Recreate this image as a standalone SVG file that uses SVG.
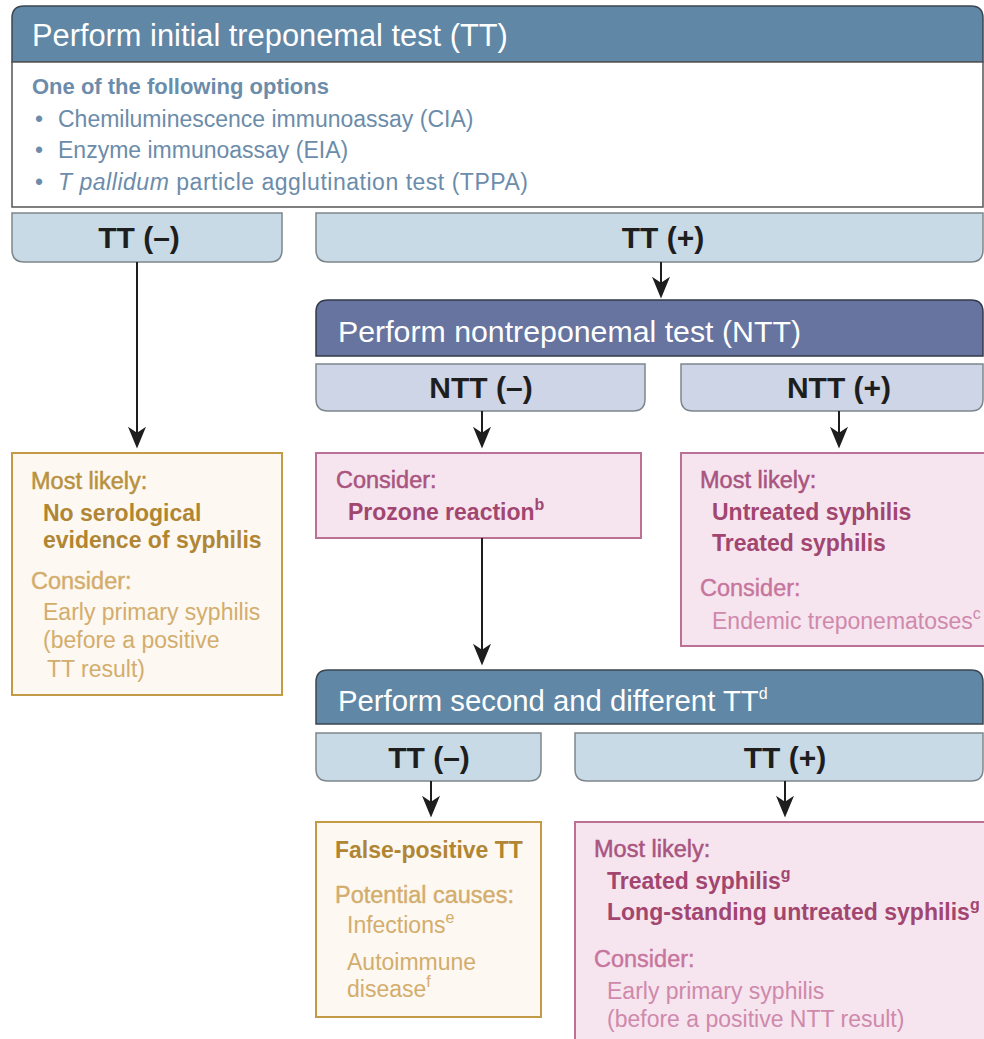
<svg xmlns="http://www.w3.org/2000/svg" width="984" height="1039" viewBox="0 0 984 1039">
<defs>
<marker id="ah" markerUnits="userSpaceOnUse" markerWidth="30" markerHeight="30" refX="0" refY="0" viewBox="-10 -10 25 20" orient="auto" overflow="visible">
<path d="M12,0 L-6,-7.5 L-1,0 L-6,7.5 Z" fill="#1e1e1e"/>
</marker>
<style>
text{font-family:"Liberation Sans",Arial,sans-serif;}
.hd{fill:#ffffff;font-size:30px;}
.lab{fill:#1e1e1e;font-size:30px;font-weight:bold;text-anchor:middle;}
.bl{fill:#6b8caa;font-size:23px;}
.blb{fill:#6b8caa;font-size:22px;font-weight:bold;}
.gm{fill:#b8913f;stroke:#b8913f;stroke-width:0.5;font-size:23.5px;}
.gb{fill:#b08533;font-size:23px;font-weight:bold;}
.gl{fill:#d3ad6c;stroke:#d3ad6c;stroke-width:0.4;font-size:23.5px;}
.gt{fill:#d3ad6c;font-size:23px;}
.pm{fill:#a9557f;stroke:#a9557f;stroke-width:0.5;font-size:23.5px;}
.pb{fill:#a2466f;font-size:23px;font-weight:bold;}
.pl{fill:#c7759c;stroke:#c7759c;stroke-width:0.4;font-size:23.5px;}
.pt{fill:#cf89ab;font-size:23px;}
.sup{font-size:16px;}
.hdr1{fill:#6087a5;stroke:#3b4650;stroke-width:1.5;}
.hdr2{fill:#66749f;stroke:#333a4a;stroke-width:1.5;}
.ttb{fill:#c8dae6;stroke:#7d868c;stroke-width:1.5;}
.ntb{fill:#cdd5e6;stroke:#7d868c;stroke-width:1.5;}
.beige{fill:#fdf8f2;stroke:#c39a45;stroke-width:2;}
.pink{fill:#f6e4ef;stroke:#bb7096;stroke-width:2;}
.conn{stroke:#1e1e1e;stroke-width:2;fill:none;marker-end:url(#ah);}
</style>
</defs>

<g id="initial-tt">
<path class="hdr1" d="M12,62 V18 Q12,6 24,6 H971 Q983,6 983,18 V62 Z"/>
<rect x="12" y="62" width="971" height="145" fill="#ffffff" stroke="#555555" stroke-width="1.5"/>
<text class="hd" x="32" y="46" style="font-size:30.8px">Perform initial treponemal test (TT)</text>
<text class="blb" x="32" y="94">One of the following options</text>
<text class="bl" x="35" y="127">•</text>
<text class="bl" x="58" y="127">Chemiluminescence immunoassay (CIA)</text>
<text class="bl" x="35" y="158">•</text>
<text class="bl" x="58" y="158">Enzyme immunoassay (EIA)</text>
<text class="bl" x="35" y="190">•</text>
<text class="bl" x="58" y="190" textLength="470"><tspan font-style="italic">T pallidum</tspan> particle agglutination test (TPPA)</text>
</g>

<g id="tt-neg">
<path class="ttb" d="M12,213 H282 V250 Q282,262 270,262 H24 Q12,262 12,250 Z"/>
<text class="lab" x="139" y="248">TT (–)</text>
</g>

<g id="tt-pos">
<path class="ttb" d="M316,213 H983 V250 Q983,262 971,262 H328 Q316,262 316,250 Z"/>
<text class="lab" x="663" y="248">TT (+)</text>
</g>

<g id="ntt">
<path class="hdr2" d="M316,356 V312 Q316,300 328,300 H971 Q983,300 983,312 V356 Z"/>
<text class="hd" x="338" y="342" style="font-size:30.3px">Perform nontreponemal test (NTT)</text>
</g>

<g id="ntt-neg">
<path class="ntb" d="M316,364 H645 V399 Q645,411 633,411 H328 Q316,411 316,399 Z"/>
<text class="lab" x="481" y="398">NTT (–)</text>
</g>

<g id="ntt-pos">
<path class="ntb" d="M681,364 H983 V399 Q983,411 971,411 H693 Q681,411 681,399 Z"/>
<text class="lab" x="839" y="398">NTT (+)</text>
</g>

<g id="no-evidence">
<rect class="beige" x="12" y="453" width="270" height="242"/>
<text class="gm" x="31" y="489">Most likely:</text>
<text class="gb" x="43" y="521">No serological</text>
<text class="gb" x="43" y="548">evidence of syphilis</text>
<text class="gl" x="31" y="589">Consider:</text>
<text class="gt" x="43" y="620">Early primary syphilis</text>
<text class="gt" x="43" y="648">(before a positive</text>
<text class="gt" x="47" y="677">TT result)</text>
</g>

<g id="prozone">
<rect class="pink" x="316" y="453" width="325" height="85"/>
<text class="pm" x="336" y="488">Consider:</text>
<text class="pb" x="348" y="520">Prozone reaction<tspan class="sup" dy="-10">b</tspan></text>
</g>

<g id="syphilis-likely">
<rect class="pink" x="681" y="453" width="320" height="193"/>
<text class="pm" x="700" y="488">Most likely:</text>
<text class="pb" x="712" y="520">Untreated syphilis</text>
<text class="pb" x="712" y="551">Treated syphilis</text>
<text class="pl" x="700" y="596">Consider:</text>
<text class="pt" x="712" y="629">Endemic treponematoses<tspan class="sup" dy="-10">c</tspan></text>
</g>

<g id="second-tt">
<path class="hdr1" d="M316,724 V682 Q316,670 328,670 H971 Q983,670 983,682 V724 Z"/>
<text class="hd" x="338" y="711" style="font-size:29.3px">Perform second and different TT<tspan class="sup" dy="-12">d</tspan></text>
</g>

<g id="tt2-neg">
<path class="ttb" d="M316,733 H541 V769 Q541,781 529,781 H328 Q316,781 316,769 Z"/>
<text class="lab" x="429" y="768">TT (–)</text>
</g>

<g id="tt2-pos">
<path class="ttb" d="M575,733 H983 V769 Q983,781 971,781 H587 Q575,781 575,769 Z"/>
<text class="lab" x="785" y="768">TT (+)</text>
</g>

<g id="false-positive">
<rect class="beige" x="316" y="822" width="225" height="195"/>
<text class="gb" x="335" y="858">False-positive TT</text>
<text class="gl" x="335" y="903">Potential causes:</text>
<text class="gt" x="347" y="933">Infections<tspan class="sup" dy="-10">e</tspan></text>
<text class="gt" x="347" y="970">Autoimmune</text>
<text class="gt" x="347" y="997">disease<tspan class="sup" dy="-10">f</tspan></text>
</g>

<g id="treated-syphilis">
<rect class="pink" x="575" y="822" width="430" height="230"/>
<text class="pm" x="594" y="857">Most likely:</text>
<text class="pb" x="607" y="889">Treated syphilis<tspan class="sup" dy="-10">g</tspan></text>
<text class="pb" x="607" y="920">Long-standing untreated syphilis<tspan class="sup" dy="-10">g</tspan></text>
<text class="pl" x="594" y="967">Consider:</text>
<text class="pt" x="607" y="999">Early primary syphilis</text>
<text class="pt" x="607" y="1027">(before a positive NTT result)</text>
</g>

<g id="connectors">
<line class="conn" x1="137" y1="262" x2="137" y2="434"/>
<line class="conn" x1="661" y1="262" x2="661" y2="284"/>
<line class="conn" x1="482" y1="411" x2="482" y2="434"/>
<line class="conn" x1="839" y1="411" x2="839" y2="434"/>
<line class="conn" x1="482" y1="538" x2="482" y2="651"/>
<line class="conn" x1="431" y1="781" x2="431" y2="803"/>
<line class="conn" x1="785" y1="781" x2="785" y2="803"/>
</g>
</svg>
